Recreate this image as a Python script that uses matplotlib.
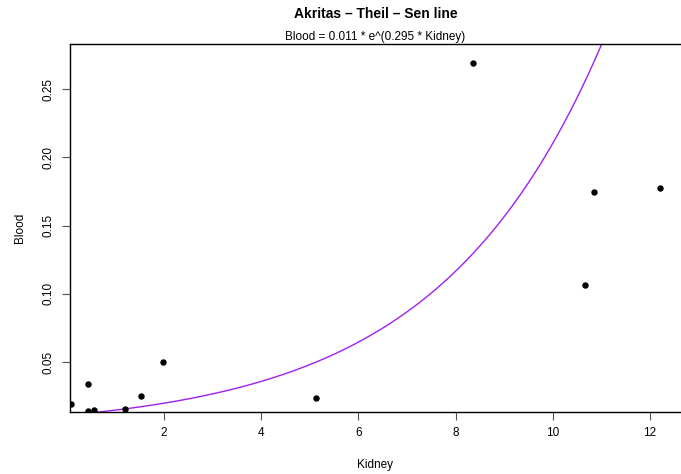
import numpy as np
import matplotlib
matplotlib.use('Agg')
import matplotlib.pyplot as plt

plt.rcParams['font.family'] = ['Liberation Sans', 'DejaVu Sans']

# values
kidney = [0.086, 0.43, 0.44, 0.57, 1.19, 1.52, 1.98, 5.13, 8.36, 10.66, 10.85, 12.21]
blood = [0.0192, 0.0341, 0.0139, 0.0148, 0.0158, 0.0249, 0.050, 0.0236, 0.269, 0.1062, 0.1743, 0.1775]

# fitted model Blood = a * exp(b * Kidney)
coef_a = 0.011
coef_b = 0.295

xticks = [2, 4, 6, 8, 10, 12]
yticks = [0.05, 0.10, 0.15, 0.20, 0.25]
ytick_labels = ['0.05', '0.10', '0.15', '0.20', '0.25']

fig = plt.figure(figsize=(6.81, 4.74), dpi=100)
ax = fig.add_axes([70/681, 1 - 412/474, 1 - 70/681, (412 - 44)/474])

xlim = (0.066, 12.64)
ylim = (0.0134, 0.283)

xs = np.linspace(xlim[0], xlim[1], 400)
ax.plot(xs, coef_a * np.exp(coef_b * xs), color='#A020F0', lw=1.0)
ax.plot(kidney, blood, 'o', color='black', markersize=3.6)

ax.set_xlim(*xlim)
ax.set_ylim(*ylim)
ax.set_xticks(xticks)
ax.set_xticklabels([str(t) for t in xticks])
ax.set_yticks(yticks)
ax.set_yticklabels(ytick_labels, rotation=90, va='center')

ax.spines['right'].set_visible(False)
for s in ['left', 'bottom', 'top']:
    ax.spines[s].set_color('black')
    ax.spines[s].set_linewidth(1.0)
ax.tick_params(direction='out', length=6, width=0.8, color='#555555', labelsize=8.5, pad=5)

ax.set_xlabel('Kidney', fontsize=8.5, labelpad=14)
ax.set_ylabel('Blood', fontsize=8.5, labelpad=12)

fig.text(375.5/681, 1 - 14.5/474, 'Akritas – Theil – Sen line', ha='center', va='center',
         fontsize=10, fontweight='bold')
fig.text(375.5/681, 1 - 37/474, 'Blood = 0.011 * e^(0.295 * Kidney)', ha='center', va='center',
         fontsize=8.5)

plt.savefig('out.png', dpi=100)
